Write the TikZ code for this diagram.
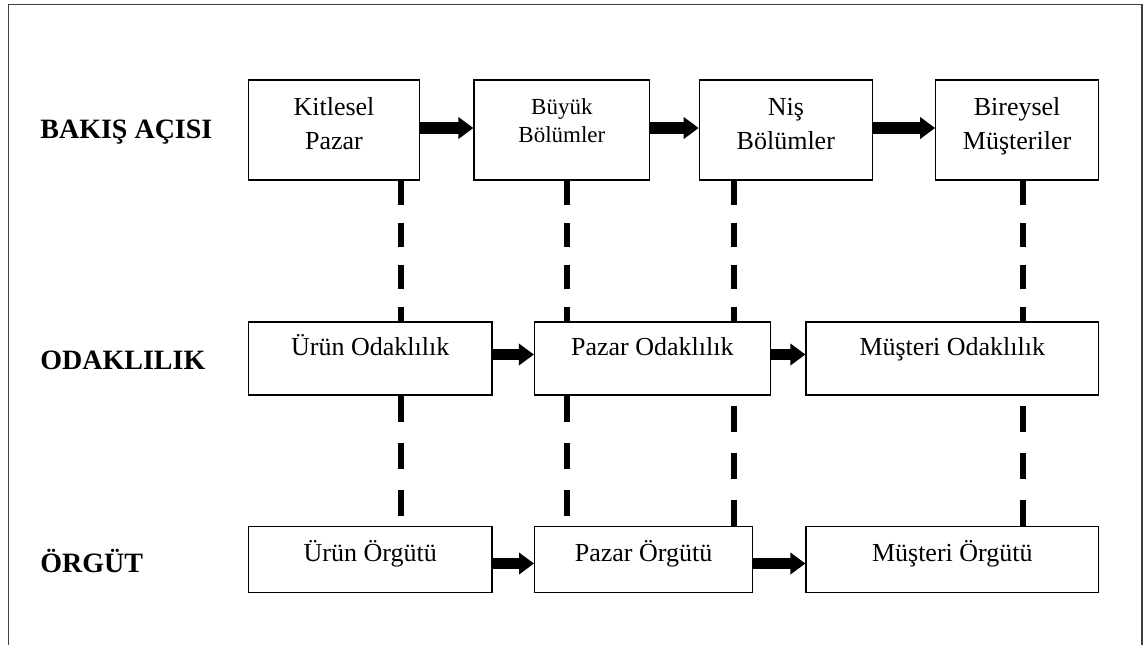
\documentclass[tikz,border=0pt]{standalone}
\usepackage{fontspec}
\setmainfont{Liberation Serif}
\usetikzlibrary{arrows.meta}
\tikzset{
  stage/.style   ={draw,line width=0.6pt,inner sep=0pt,align=center,font=\fontsize{13}{17}\selectfont},
  toprow/.style  ={stage,text height=34.5pt,text depth=15.5pt},
  midrow/.style  ={stage,text height=16.5pt,text depth=20pt},
  lowrow/.style  ={stage,text height=17.8pt,text depth=15.4pt},
  rowlabel/.style={anchor=base west,inner sep=0pt,font=\fontsize{14}{17}\selectfont\bfseries},
  flow/.style    ={line width=5.8pt,-{Triangle[length=7.5pt,width=10.5pt]}},
  link/.style    ={line width=3pt,dash pattern=on 12pt off 9pt},
  linklong/.style={link,dash pattern=on 13pt off 10.5pt},
}

\begin{document}
\begin{tikzpicture}[x=0.5pt,y={(0pt,-0.5pt)}]
  \useasboundingbox (0,0) rectangle (1144,645);
  % frame, open at the bottom
  \draw[black!75,line width=0.6pt] (8.5,645) -- (8.5,4.5) -- (1142,4.5) -- (1142,645);
  % row labels
  \node[rowlabel] (lbakis) at (40,138) {BAKIŞ AÇISI};
  \node[rowlabel] (lodak)  at (40,369) {ODAKLILIK};
  \node[rowlabel] (lorgut) at (40,572) {ÖRGÜT};
  % top row
  \node[toprow,minimum width=85.5pt] (kp) at (334,130) {Kitlesel\\Pazar};
  \node[toprow,minimum width=87.9pt,font=\fontsize{11.5}{14}\selectfont,text height=31pt,text depth=19pt] (bb) at (561.9,130) {Büyük\\Bölümler};
  \node[toprow,minimum width=86.5pt] (nb) at (785.8,130) {Niş\\Bölümler};
  \node[toprow,minimum width=81.4pt] (bm) at (1017.1,130) {Bireysel\\Müşteriler};
  % middle row
  \node[midrow,minimum width=121.7pt] (uo) at (370.2,358.5) {Ürün Odaklılık};
  \node[midrow,minimum width=117.8pt] (po) at (652.3,358.5) {Pazar Odaklılık};
  \node[midrow,minimum width=146.3pt] (mo) at (952.3,358.5) {Müşteri Odaklılık};
  % bottom row
  \node[lowrow,minimum width=121.7pt] (ur) at (370.2,559.5) {Ürün Örgütü};
  \node[lowrow,minimum width=109pt]   (pr) at (643.6,559.5) {Pazar Örgütü};
  \node[lowrow,minimum width=146.3pt] (mr) at (952.3,559.5) {Müşteri Örgütü};
  % arrows
  \draw[flow] ([yshift=1pt]kp.east) -- ([yshift=1pt]bb.west);
  \draw[flow] ([yshift=1pt]bb.east) -- ([yshift=1pt]nb.west);
  \draw[flow] ([yshift=1pt]nb.east) -- ([yshift=1pt]bm.west);
  \draw[flow] ([yshift=2pt]uo.east) -- ([yshift=2pt]po.west);
  \draw[flow] ([yshift=2pt]po.east) -- ([yshift=2pt]mo.west);
  \draw[flow] ([yshift=-2pt]ur.east) -- ([yshift=-2pt]pr.west);
  \draw[flow] ([yshift=-2pt]pr.east) -- ([yshift=-2pt]mr.west);
  % dashed links, one column each
  \coordinate (c1) at (401,0);
  \coordinate (c2) at (566.6,0);
  \coordinate (c3) at (734,0);
  \coordinate (c4) at (1022.6,0);
  \draw[link] (kp.south -| c1) -- (uo.north -| c1);
  \draw[link] (bb.south -| c2) -- (po.north -| c2);
  \draw[link] (nb.south -| c3) -- (po.north -| c3);
  \draw[link] (bm.south -| c4) -- (mo.north -| c4);
  \draw[linklong] (uo.south -| c1) -- (ur.north -| c1);
  \draw[linklong] (po.south -| c2) -- (pr.north -| c2);
  \draw[linklong] (pr.north -| c3) -- (po.south -| c3);
  \draw[linklong] (mr.north -| c4) -- (mo.south -| c4);
\end{tikzpicture}
\end{document}
